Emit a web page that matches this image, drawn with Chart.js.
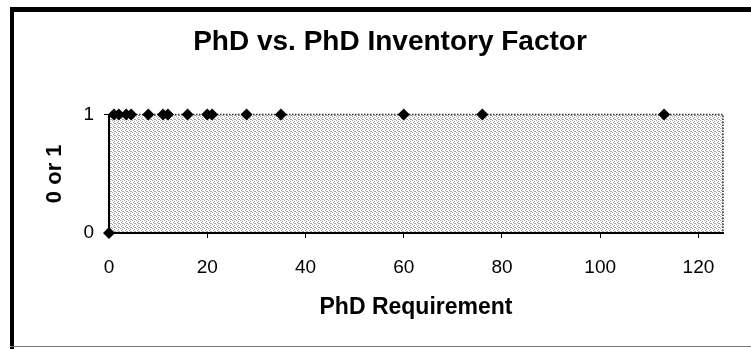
<!DOCTYPE html>
<html>
<head>
<meta charset="utf-8">
<script src="https://cdn.jsdelivr.net/npm/chart.js@4.4.0/dist/chart.umd.min.js"></script>
<style>
    html, body { margin: 0; padding: 0; background: #fff; }
    #wrap { width: 751px; height: 349px; position: relative; }
</style>
</head>
<body>
<div id="wrap"><canvas id="phd-chart"></canvas></div>
<script>
// PhD requirement (x) vs inventory factor (0 or 1)
const phdRequirement = [0, 1, 2, 3.5, 4.5, 8, 11, 12, 16, 20, 21, 28, 35, 60, 76, 113];
const inventoryFactor = [0, 1, 1, 1, 1, 1, 1, 1, 1, 1, 1, 1, 1, 1, 1, 1];
const xTicks = [0, 20, 40, 60, 80, 100, 120];
const yTicks = [0, 1];

const FONT = '"Liberation Sans", Arial, sans-serif';

// stippled grey like the old scanned plot area
function makeStipple() {
    const c = document.createElement('canvas');
    c.width = 4; c.height = 4;
    const g = c.getContext('2d');
    g.fillStyle = '#fff';
    g.fillRect(0, 0, 4, 4);
    g.fillStyle = '#a4a4a4';
    [[0, 0], [2, 1], [1, 2], [3, 3], [2, 3]].forEach(p => g.fillRect(p[0], p[1], 1, 1));
    return c;
}

const plotBackground = {
    id: 'plotBackground',
    beforeDraw(chart) {
        const { ctx, chartArea: a } = chart;
        ctx.save();
        ctx.fillStyle = ctx.createPattern(makeStipple(), 'repeat');
        ctx.fillRect(a.left, a.top, a.right - a.left, a.bottom - a.top);
        ctx.restore();
    },
    beforeDatasetsDraw(chart) {
        const { ctx, chartArea: a } = chart;
        ctx.save();
        ctx.strokeStyle = '#333';
        ctx.lineWidth = 1.5;
        ctx.setLineDash([1.5, 1.5]);
        ctx.beginPath();
        ctx.moveTo(a.left, a.top);
        ctx.lineTo(a.right, a.top);
        ctx.lineTo(a.right, a.bottom);
        ctx.stroke();
        ctx.restore();
    },
    afterDraw(chart) {
        // outer frame of the figure
        const ctx = chart.ctx;
        ctx.save();
        ctx.fillStyle = '#000';
        ctx.fillRect(10, 7, 741, 5);
        ctx.fillRect(10, 7, 4, 342);
        ctx.fillStyle = '#777';
        ctx.fillRect(10, 346, 741, 1);
        ctx.restore();
    }
};

const ctx = document.getElementById('phd-chart').getContext('2d');
new Chart(ctx, {
    type: 'scatter',
    data: {
        datasets: [{
            label: 'PhD',
            data: phdRequirement.map((x, i) => ({ x: x, y: inventoryFactor[i] })),
            pointStyle: 'rectRot',
            pointRadius: 6,
            pointHoverRadius: 6,
            backgroundColor: '#000',
            borderColor: '#000',
            borderWidth: 0,
            clip: false
        }]
    },
    options: {
        responsive: true,
        maintainAspectRatio: false,
        animation: false,
        // left padding is wide so the title sits where it does in the scan
        layout: { padding: { left: 57, right: 28, top: 0, bottom: 0 } },
        plugins: {
            legend: { display: false },
            tooltip: { enabled: false },
            title: {
                display: true,
                text: 'PhD vs. PhD Inventory Factor',
                color: '#000',
                font: { family: FONT, size: 28, weight: 'bold' },
                padding: { top: 25, bottom: 56 }
            }
        },
        scales: {
            x: {
                type: 'linear',
                min: 0,
                max: 125,
                afterFit: s => { s.height = 116; },
                afterBuildTicks: s => { s.ticks = xTicks.map(v => ({ value: v })); },
                ticks: { color: '#000', font: { family: FONT, size: 19 }, padding: 18, includeBounds: false },
                grid: { drawOnChartArea: false, drawTicks: true, tickLength: 5, color: '#000', lineWidth: 1 },
                border: { display: true, color: '#000', width: 2 },
                title: {
                    display: true,
                    text: 'PhD Requirement',
                    color: '#000',
                    font: { family: FONT, size: 23, weight: 'bold' },
                    padding: { top: 0, bottom: 28 }
                }
            },
            y: {
                min: 0,
                max: 1,
                afterFit: s => { s.width = 52; },
                afterBuildTicks: s => { s.ticks = yTicks.map(v => ({ value: v })); },
                ticks: { color: '#000', font: { family: FONT, size: 19 }, padding: 10 },
                grid: { drawOnChartArea: false, drawTicks: true, tickLength: 5, color: '#000', lineWidth: 1 },
                border: { display: true, color: '#000', width: 2 },
                title: {
                    display: true,
                    text: '0 or 1',
                    color: '#000',
                    font: { family: FONT, size: 22, weight: 'bold' },
                    padding: { top: -15, bottom: 0 }
                }
            }
        }
    },
    plugins: [plotBackground]
});
</script>
</body>
</html>
